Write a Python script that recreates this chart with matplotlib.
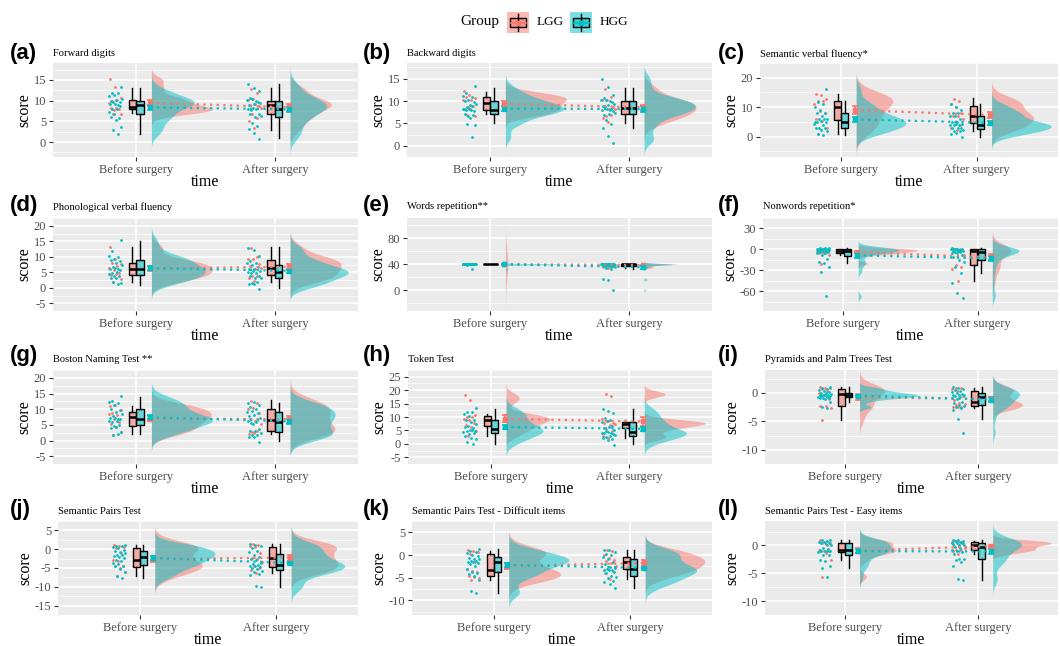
import numpy as np
import matplotlib
matplotlib.use('Agg')
import matplotlib.pyplot as plt
from matplotlib import cbook
from matplotlib.colors import to_rgba
from matplotlib.patches import Rectangle

plt.rcParams['font.family'] = ['Liberation Serif', 'DejaVu Serif']
plt.rcParams['axes.unicode_minus'] = False

times = ['Before surgery', 'After surgery']
groups = ['LGG', 'HGG']
group_colors = ['#F8766D', '#00BFC4']

# (a) Forward digits
fwd_lgg_pre = [7, 7, 8, 8, 8, 8, 9, 10, 10, 11, 13, 15]
fwd_hgg_pre = [2, 3, 4, 5, 6, 6, 7, 7, 8, 8, 9, 9, 9, 9, 10, 10, 10, 10, 10, 11, 11, 12, 12, 13]
fwd_lgg_post = [3, 5, 6, 7, 8, 9, 9, 9, 10, 10, 12, 13]
fwd_hgg_post = [1, 2, 3, 4, 5, 6, 6, 7, 7, 8, 8, 8, 8, 9, 9, 9, 10, 10, 10, 10, 11, 12, 13, 14]

# (b) Backward digits
bwd_lgg_pre = [7, 7, 8, 8, 9, 9, 10, 10, 11, 11, 11, 12]
bwd_hgg_pre = [2, 5, 5, 6, 7, 7, 7, 8, 8, 8, 8, 8, 8, 9, 9, 9, 9, 10, 10, 10, 11, 11, 12, 13]
bwd_lgg_post = [5, 6, 7, 7, 8, 8, 9, 9, 10, 10, 11, 13]
bwd_hgg_post = [1, 2, 4, 5, 6, 7, 7, 7, 8, 8, 8, 8, 9, 9, 9, 9, 10, 10, 10, 10, 11, 11, 13, 15]

# (c) Semantic verbal fluency
svf_lgg_pre = [1, 3, 5, 6, 8, 9, 11, 12, 12, 13, 14, 14.5]
svf_hgg_pre = [0.5, 1, 2, 2, 3, 3, 3, 4, 4, 5, 5, 5, 5, 6, 6, 6, 7, 8, 8, 9, 10, 11, 12, 16]
svf_lgg_post = [2, 3, 4, 5, 6, 7, 7, 8, 10, 11, 12, 13]
svf_hgg_post = [0, 1, 1, 2, 2, 2, 3, 3, 3, 4, 4, 4, 4, 4, 5, 5, 6, 7, 7, 8, 8, 9, 10, 11]

# (d) Phonological verbal fluency
pvf_lgg_pre = [2, 3, 4, 4, 5, 6, 6, 7, 8, 8, 9, 13]
pvf_hgg_pre = [1, 2, 2, 3, 3, 4, 4, 4, 5, 5, 6, 6, 6, 6, 7, 7, 8, 9, 9, 9, 10, 10, 12, 15]
pvf_lgg_post = [2, 3, 4, 4, 6, 6, 7, 8, 9, 9, 10, 13]
pvf_hgg_post = [0, 1, 1, 2, 2, 3, 3, 4, 4, 5, 5, 5, 5, 5, 6, 6, 7, 7, 8, 8, 9, 10, 12, 13]

# (e) Words repetition
wrep_lgg_pre = [40, 40, 40, 40, 40, 40, 40, 40, 40, 40, 40, 40]
wrep_hgg_pre = [32, 39, 40, 40, 40, 40, 40, 40, 40, 40, 40, 40, 40, 40, 40, 40, 40, 40, 40, 40, 40, 40, 40, 40]
wrep_lgg_post = [34, 35, 36, 38, 39, 40, 40, 40, 40, 40, 40, 40]
wrep_hgg_post = [0, 16, 17, 33, 35, 36, 37, 38, 38, 39, 39, 40, 40, 40, 40, 40, 40, 40, 40, 40, 40, 40, 40, 40]

# (f) Nonwords repetition
nwrep_lgg_pre = [-20, -8, -6, -5, -4, -3, -2, -1, 0, 0, 1, 1]
nwrep_hgg_pre = [-67, -32, -25, -20, -18, -14, -8, -6, -5, -4, -3, -2, -2, -2, -1, -1, 0, 0, 1, 1, 1, 2, 2, 2]
nwrep_lgg_post = [-45, -28, -25, -22, -8, -3, -2, -1, 0, 0, 1, 1]
nwrep_hgg_post = [-69, -62, -48, -34, -25, -18, -15, -10, -8, -6, -5, -4, -3, -3, -2, -2, -1, 0, 0, 0, 1, 1, 1, 2]

# (g) Boston Naming Test
bnt_lgg_pre = [2, 3, 4, 5, 6, 7, 8, 8, 9, 10, 11, 11]
bnt_hgg_pre = [2, 2, 3, 4, 4, 5, 5, 6, 6, 6, 7, 7, 7, 7, 8, 8, 9, 10, 10, 11, 12, 12, 13, 14]
bnt_lgg_post = [2, 2, 3, 3, 5, 6, 7, 9, 10, 10, 12, 13]
bnt_hgg_post = [0, 1, 1, 2, 2, 2, 3, 3, 4, 5, 6, 6, 6, 7, 8, 8, 9, 9, 9, 10, 11, 11, 12, 12]

# (h) Token Test
tok_lgg_pre = [3, 5, 6, 7, 8, 9, 9, 10, 10, 11, 16, 18]
tok_hgg_pre = [0, 1, 2, 2, 3, 4, 4, 4, 5, 5, 5, 5, 6, 6, 7, 7, 8, 9, 9, 10, 11, 12, 12, 13]
tok_lgg_post = [2, 3, 5, 6, 7, 7, 8, 8, 8, 9, 18, 19]
tok_hgg_post = [0, 1, 2, 2, 3, 3, 3, 4, 4, 4, 4, 4, 5, 5, 6, 6, 7, 8, 8, 9, 10, 11, 12, 13]

# (i) Pyramids and Palm Trees Test
ppt_lgg_pre = [-4.7, -2.6, -2.4, -2.3, -1.0, -0.3, 0.0, 0.3, 0.6, 0.8, 0.8, 1.0]
ppt_hgg_pre = [-2.6, -2.4, -1.6, -1.2, -1.0, -0.9, -0.8, -0.8, -0.7, -0.6, -0.5, -0.5,
               -0.4, -0.3, -0.3, -0.2, -0.1, 0.0, 0.1, 0.3, 0.4, 0.6, 0.8, 1.0]
ppt_lgg_post = [-2.6, -2.5, -2.4, -2.2, -2.0, -1.8, -1.3, -0.5, 0.2, 0.6, 0.8, 0.8]
ppt_hgg_post = [-7.0, -4.6, -3.0, -2.6, -2.4, -2.3, -2.1, -1.8, -1.5, -1.2, -1.0, -0.8,
                -0.6, -0.5, -0.4, -0.3, -0.2, 0.0, 0.2, 0.4, 0.5, 0.7, 0.9, 1.0]

# (j) Semantic Pairs Test
spt_lgg_pre = [-7.2, -6.0, -5.0, -4.6, -4.4, -3.2, -2.8, -1.0, 0.4, 0.6, 0.8, 1.2]
spt_hgg_pre = [-7.6, -7.0, -6.0, -5.2, -4.6, -4.4, -4.0, -3.6, -3.2, -2.8, -2.4, -2.2,
               -1.8, -1.6, -1.4, -1.0, -0.8, -0.6, -0.2, 0.2, 0.6, 0.8, 1.0, 1.2]
spt_lgg_post = [-6.4, -5.5, -5.0, -4.5, -3.4, -2.6, -2.2, -1.0, 0.6, 0.8, 1.0, 1.4]
spt_hgg_post = [-10.0, -9.8, -7.0, -6.6, -6.0, -5.8, -5.4, -5.0, -4.8, -4.6, -4.4, -4.2,
                -4.0, -3.6, -3.0, -2.6, -2.0, -1.6, -0.8, -0.4, 0.4, 0.8, 1.2, 1.5]

# (k) Semantic Pairs Test - Difficult items
sptd_lgg_pre = [-5.5, -5.0, -4.9, -4.6, -3.8, -3.4, -3.0, -1.6, 0.2, 0.6, 0.8, 1.0]
sptd_hgg_pre = [-8.4, -8.0, -5.4, -4.6, -4.2, -4.0, -3.6, -3.0, -2.4, -2.0, -1.8, -1.6,
                -1.6, -1.4, -1.2, -1.0, -0.8, -0.6, -0.2, 0.0, 0.4, 0.6, 1.0, 1.4]
sptd_lgg_post = [-5.2, -4.0, -3.4, -3.1, -2.4, -1.8, -1.4, -1.0, -0.6, 0.0, 0.8, 1.2]
sptd_hgg_post = [-7.2, -6.4, -6.0, -5.6, -5.0, -4.8, -4.6, -4.0, -3.6, -3.4, -3.2, -3.2,
                 -3.0, -2.8, -2.6, -2.0, -1.4, -1.0, -0.4, 0.0, 0.2, 0.6, 1.0, 1.2]

# (l) Semantic Pairs Test - Easy items
spte_lgg_pre = [-5.6, -2.6, -1.4, -1.0, -1.0, -1.0, -0.8, 0.0, 0.4, 0.4, 0.6, 1.0]
spte_hgg_pre = [-5.7, -4.0, -3.7, -2.8, -2.6, -1.7, -1.6, -1.2, -1.0, -1.0, -1.0, -1.0,
                -0.8, -0.6, -0.4, 0.0, 0.2, 0.4, 0.4, 0.6, 0.6, 0.8, 1.0, 1.0]
spte_lgg_post = [-1.5, -1.0, -0.8, -0.8, -0.4, 0.0, 0.0, 0.4, 0.6, 0.6, 0.6, 0.8]
spte_hgg_post = [-6.2, -6.0, -3.7, -3.0, -2.6, -2.5, -2.4, -1.6, -1.2, -1.0, -0.8, -0.4,
                 -0.2, 0.0, 0.0, 0.2, 0.4, 0.4, 0.5, 0.6, 0.8, 0.8, 1.0, 1.0]

panels = [
    ('(a)', 'Forward digits', (fwd_lgg_pre, fwd_lgg_post), (fwd_hgg_pre, fwd_hgg_post)),
    ('(b)', 'Backward digits', (bwd_lgg_pre, bwd_lgg_post), (bwd_hgg_pre, bwd_hgg_post)),
    ('(c)', 'Semantic verbal fluency*', (svf_lgg_pre, svf_lgg_post), (svf_hgg_pre, svf_hgg_post)),
    ('(d)', 'Phonological verbal fluency', (pvf_lgg_pre, pvf_lgg_post), (pvf_hgg_pre, pvf_hgg_post)),
    ('(e)', 'Words repetition**', (wrep_lgg_pre, wrep_lgg_post), (wrep_hgg_pre, wrep_hgg_post)),
    ('(f)', 'Nonwords repetition*', (nwrep_lgg_pre, nwrep_lgg_post), (nwrep_hgg_pre, nwrep_hgg_post)),
    ('(g)', 'Boston Naming Test **', (bnt_lgg_pre, bnt_lgg_post), (bnt_hgg_pre, bnt_hgg_post)),
    ('(h)', 'Token Test', (tok_lgg_pre, tok_lgg_post), (tok_hgg_pre, tok_hgg_post)),
    ('(i)', 'Pyramids and Palm Trees Test', (ppt_lgg_pre, ppt_lgg_post), (ppt_hgg_pre, ppt_hgg_post)),
    ('(j)', 'Semantic Pairs Test', (spt_lgg_pre, spt_lgg_post), (spt_hgg_pre, spt_hgg_post)),
    ('(k)', 'Semantic Pairs Test - Difficult items', (sptd_lgg_pre, sptd_lgg_post), (sptd_hgg_pre, sptd_hgg_post)),
    ('(l)', 'Semantic Pairs Test - Easy items', (spte_lgg_pre, spte_lgg_post), (spte_hgg_pre, spte_hgg_post)),
]

y_limits = [(-3.6, 19.1), (-2.2, 18.5), (-6.9, 22.5), (-5.3, 20.2), (-32, 111), (-88, 31),
            (-5.8, 20.3), (-6, 25.3), (-10.3, 4.0), (-15.5, 7.4), (-13.2, 7.1), (-10.5, 4.4)]
y_ticks = [[0, 5, 10, 15], [0, 5, 10, 15], [0, 10, 20], [-5, 0, 5, 10, 15, 20],
           [0, 40, 80], [-60, -30, 0, 30], [-5, 0, 5, 10, 15, 20], [-5, 0, 5, 10, 15, 20, 25],
           [-10, -5, 0], [-15, -10, -5, 0, 5], [-10, -5, 0, 5], [-10, -5, 0]]

# panel frames in pixels
W_PX, H_PX = 1060, 646
panel_left = [53, 407, 760, 53, 407, 763, 53, 408, 765, 58, 412, 765]
col_right = [358, 712, 1058]
row_top = [63, 218, 370, 521]
row_bottom = [157, 311, 464, 615]
tag_x = [10, 363, 718]
tag_y = [53, 205, 356, 510]
title_y = [54, 207, 359, 512]

VIOLIN_W = 0.44


def bw_nrd0(x):
    hi = np.std(x, ddof=1)
    q75, q25 = np.percentile(x, [75, 25])
    lo = min(hi, (q75 - q25) / 1.34)
    if lo == 0:
        lo = hi or abs(x[0]) or 1.0
    return 0.9 * lo * len(x) ** -0.2


def kde(values):
    x = np.asarray(values, float)
    bw = bw_nrd0(x)
    grid = np.linspace(x.min() - 3 * bw, x.max() + 3 * bw, 512)
    z = (grid[:, None] - x[None, :]) / bw
    dens = np.exp(-0.5 * z ** 2).sum(axis=1) / (len(x) * bw * np.sqrt(2 * np.pi))
    return grid, dens


def draw_panel(ax, by_group, ylim, yticks):
    ax.set_facecolor('#EBEBEB')
    curves = {(g, t): kde(by_group[g][t]) for g in range(2) for t in range(2)}
    dmax = max(d.max() for _, d in curves.values())
    # smallest gap between distinct scores, used to size the vertical jitter
    allv = np.unique(np.concatenate([np.asarray(v, float) for grp in by_group for v in grp]))
    res = np.diff(allv).min() if len(allv) > 1 else 1.0

    means = {}
    for g, col in enumerate(group_colors):
        for t in range(2):
            xc = t + 1
            vals = np.asarray(by_group[g][t], float)
            # half violin
            grid, d = curves[g, t]
            base = xc + 0.11
            ax.fill_betweenx(grid, base, base + d / dmax * VIOLIN_W, color=col,
                             alpha=0.5, lw=0, zorder=2)
            # jittered raw scores
            n = len(vals)
            k = np.arange(n) + 0.5
            xoff = (k * 0.6180339887 + 0.37 * g + 0.2 * t) % 1
            yoff = (k * 0.7548776662 + 0.21 * g + 0.5 * t) % 1 - 0.5
            ax.scatter(xc - 0.2 + xoff * 0.1, vals + yoff * 0.8 * res, s=4, color=col,
                       lw=0, zorder=3)
            # boxplot
            stats = cbook.boxplot_stats(vals, whis=1.5)
            pos = xc - 0.027 if g == 0 else xc + 0.027
            ax.bxp(stats, positions=[pos], widths=0.052, patch_artist=True,
                   showfliers=False, showcaps=False, manage_ticks=False,
                   boxprops=dict(facecolor=to_rgba(col, 0.55), edgecolor='black', linewidth=1.0),
                   medianprops=dict(color='black', linewidth=1.8),
                   whiskerprops=dict(color='black', linewidth=1.0), zorder=4)
            # mean +/- standard error
            m = vals.mean()
            se = vals.std(ddof=1) / np.sqrt(n)
            means[g, t] = m
            ax.errorbar(xc + 0.1, m, yerr=se, fmt='s', ms=2.5, color=col, elinewidth=1.2,
                        capsize=2.5, capthick=1.2, zorder=6)
        ax.plot([1.1, 2.1], [means[g, 0], means[g, 1]], ls=(0, (1, 2)), lw=1.6,
                color=col, zorder=5)

    ax.set_xlim(0.4, 2.6)
    ax.set_ylim(*ylim)
    ax.set_xticks([1, 2], times)
    ax.set_yticks(yticks)
    step = yticks[1] - yticks[0]
    ax.set_yticks(np.arange(yticks[0] - step / 2, yticks[-1] + step, step), minor=True)
    ax.grid(which='major', color='white', lw=1.1)
    ax.grid(which='minor', axis='y', color='white', lw=0.5)
    ax.set_axisbelow(True)
    for s in ax.spines.values():
        s.set_visible(False)
    ax.tick_params(which='major', length=3, width=0.8, color='#333333',
                   labelsize=9, labelcolor='#4D4D4D', pad=2)
    ax.tick_params(which='minor', length=0)
    ax.set_xlabel('time', fontsize=11.5, labelpad=-1.5)
    ax.set_ylabel('score', fontsize=11.5, labelpad=1)


fig = plt.figure(figsize=(W_PX / 100, H_PX / 100), dpi=100)

for i, (tag, title, lgg, hgg) in enumerate(panels):
    row, col = divmod(i, 3)
    left, right = panel_left[i], col_right[col]
    top, bottom = row_top[row], row_bottom[row]
    ax = fig.add_axes([left / W_PX, 1 - bottom / H_PX, (right - left) / W_PX, (bottom - top) / H_PX])
    draw_panel(ax, (lgg, hgg), y_limits[i], y_ticks[i])
    fig.text(left / W_PX, 1 - title_y[row] / H_PX, title, fontsize=7.6, va='center', ha='left')
    fig.text(tag_x[col] / W_PX, 1 - tag_y[row] / H_PX, tag, fontsize=16, fontweight='bold',
             family='Liberation Sans', va='center', ha='left')

# legend
fig.text(460 / W_PX, 1 - 22 / H_PX, 'Group', fontsize=11, va='center', ha='left')
for k, (name, col) in enumerate(zip(groups, group_colors)):
    kx = [507, 570][k]
    kax = fig.add_axes([kx / W_PX, 1 - 33 / H_PX, 22 / W_PX, 21 / H_PX])
    kax.set_xlim(0, 1)
    kax.set_ylim(0, 1)
    kax.axis('off')
    kax.add_patch(Rectangle((0, 0), 1, 1, color=col, alpha=0.5, lw=0))
    kax.plot([0.5, 0.5], [0.08, 0.92], color='black', lw=1.0)
    kax.add_patch(Rectangle((0.15, 0.27), 0.7, 0.46, facecolor=to_rgba(col, 0.55),
                            edgecolor='black', lw=1.0))
    kax.plot([0.15, 0.85], [0.5, 0.5], color=col, lw=1.2)
    kax.plot([0.5], [0.5], marker='s', ms=2.5, color=col)
    fig.text([537, 600][k] / W_PX, 1 - 22 / H_PX, name, fontsize=9.5, va='center', ha='left')

fig.savefig('out.png', dpi=100)
